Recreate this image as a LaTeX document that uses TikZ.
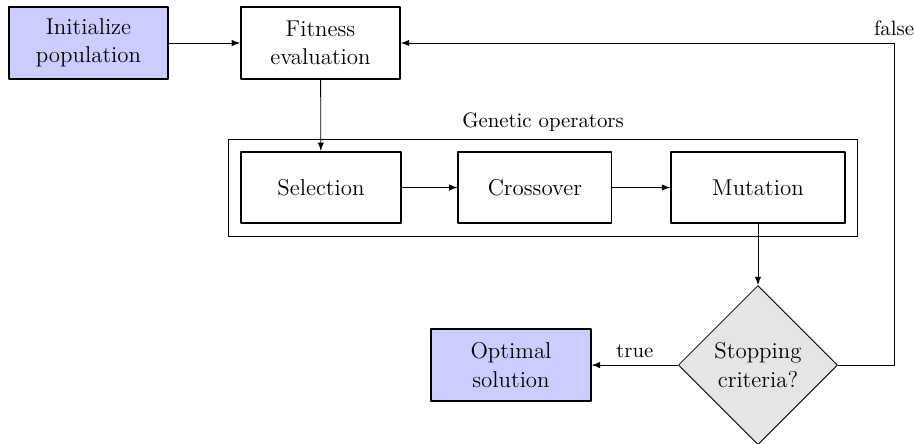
\documentclass[tikz,border=0pt]{standalone}
\usetikzlibrary{shapes.geometric,fit}
\tikzset{
  block/.style={rectangle, draw, thick, align=center, minimum height=1.21cm,
    font=\fontsize{11}{13.5}\selectfont},
  startstop/.style={block, fill=blue!20},
  decision/.style={diamond, draw, fill=gray!20, aspect=1, align=center,
    minimum width=2.69cm, minimum height=2.69cm, inner sep=0pt,
    font=\fontsize{11}{13.5}\selectfont}
}
\begin{document}
\begin{tikzpicture}[line join=round, >=latex]
			\useasboundingbox (0,0) rectangle (15.447,-7.487);
			
			\node[startstop, minimum width=2.69cm] (init) at (1.496,-0.727) {Initialize\\population};
			\node[block, minimum width=2.69cm] (fit) at (5.416,-0.727) {Fitness\\evaluation};
			\node[block, minimum width=2.70cm] (sel) at (5.425,-3.169) {Selection};
			\node[block, minimum width=2.59cm] (cross) at (9.04,-3.169) {Crossover};
			\node[block, minimum width=2.94cm] (mut) at (12.81,-3.169) {Mutation};
			\node[decision] (stop) at (12.81,-6.17) {Stopping\\criteria?};
			\node[startstop, minimum width=2.70cm] (opt) at (8.636,-6.17) {Optimal\\solution};
			
			%\draw[gray!10] (0,0) grid (15,-7);
			\node[draw, fit=(sel)(cross)(mut), inner sep=0.2cm] (ops) {};
			\node[above] (opslabel) at (ops.north) {Genetic operators};
			
			\coordinate (turn) at (15.109,-0.727);
			
			\draw[->] (init)--(fit);
			\draw[->] (fit)--(sel);
			\draw[->] (sel)--(cross);
			\draw[->] (cross)--(mut);
			\draw[->] (mut)--(stop);
			\draw[->] (stop)--(opt) node[midway, above] {true};
			\draw[->] (stop.east) -| (turn) -- (fit.east);
			\node[above] (falselabel) at (turn) {false};
	\end{tikzpicture}
\end{document}
